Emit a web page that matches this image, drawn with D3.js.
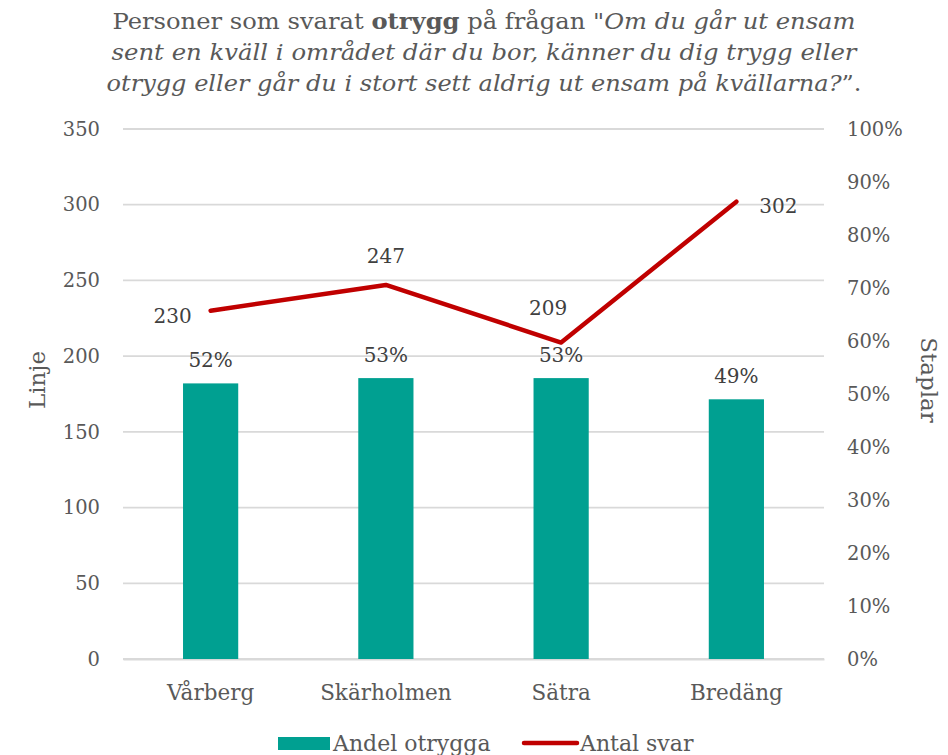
<!DOCTYPE html>
<html><head><meta charset="utf-8">
<script src="https://cdn.jsdelivr.net/npm/d3@7"></script>
<style>
html,body{margin:0;padding:0;background:#fff;}
svg text{font-family:"DejaVu Serif","Liberation Serif",serif;}
</style></head>
<body>
<svg id="chart" width="948" height="755"></svg>
<script>
const categories = ["Vårberg","Skärholmen","Sätra","Bredäng"];
const andelOtrygga = [0.52,0.53,0.53,0.49];
const antalSvar = [230,247,209,302];
const leftTicks = [0,50,100,150,200,250,300,350];
const rightTicks = [0,0.1,0.2,0.3,0.4,0.5,0.6,0.7,0.8,0.9,1.0];
const lineLabelPlacement = ["left","above","aboveLeft","right"];

const svg = d3.select("#chart");
const W = 948, H = 755;
const m = {left:123, right:124, top:129, bottom:96};
const plotW = W - m.left - m.right;
const plotH = H - m.top - m.bottom;
const gray = "#595959", dark = "#404040";
const teal = "#00A091", red = "#C00000";

const x = d3.scaleBand().domain(categories).range([m.left, m.left+plotW]).paddingInner(0.685).paddingOuter(0.3425);
const yL = d3.scaleLinear().domain([0,350]).range([m.top+plotH, m.top]);
const yR = d3.scaleLinear().domain([0,1]).range([m.top+plotH, m.top]);
const cx = d => x(d) + x.bandwidth()/2;

// gridlines
svg.append("g").selectAll("line").data(leftTicks).join("line")
  .attr("x1", m.left).attr("x2", m.left+plotW)
  .attr("y1", d=>yL(d)).attr("y2", d=>yL(d))
  .attr("stroke","#D9D9D9").attr("stroke-width",1.8);

// left axis
const axL = svg.append("g").attr("transform",`translate(${m.left},0)`)
  .call(d3.axisLeft(yL).tickValues(leftTicks).tickSize(0).tickPadding(23));
axL.select(".domain").remove();
axL.selectAll("text").attr("fill",gray).style("font-size","19.5px").style("font-family","DejaVu Serif");

// right axis
const axR = svg.append("g").attr("transform",`translate(${m.left+plotW},0)`)
  .call(d3.axisRight(yR).tickValues(rightTicks).tickSize(0).tickPadding(23).tickFormat(d3.format(".0%")));
axR.select(".domain").remove();
axR.selectAll("text").attr("fill",gray).style("font-size","19.5px").style("font-family","DejaVu Serif");

// x axis
const axX = svg.append("g").attr("transform",`translate(0,${m.top+plotH})`)
  .call(d3.axisBottom(x).tickSize(0).tickPadding(26));
axX.select(".domain").attr("stroke","#D9D9D9").attr("stroke-width",1.8);
axX.selectAll("text").attr("fill",gray).style("font-size","21.5px").style("font-family","DejaVu Serif");

// bars
svg.append("g").selectAll("rect").data(categories).join("rect")
  .attr("x", d=>x(d)).attr("width", x.bandwidth())
  .attr("y", (d,i)=>yR(andelOtrygga[i]))
  .attr("height", (d,i)=>yR(0)-yR(andelOtrygga[i]))
  .attr("fill", teal);

// bar labels
svg.append("g").selectAll("text").data(categories).join("text")
  .attr("x", d=>cx(d)).attr("y", (d,i)=>yR(andelOtrygga[i]) - 16)
  .attr("text-anchor","middle").attr("fill",dark).style("font-size","20px")
  .text((d,i)=>d3.format(".0%")(andelOtrygga[i]));

// line
const line = d3.line().x((d,i)=>cx(categories[i])).y(d=>yL(d));
svg.append("path").datum(antalSvar).attr("d", line)
  .attr("fill","none").attr("stroke",red).attr("stroke-width",4.5)
  .attr("stroke-linecap","round").attr("stroke-linejoin","round");

// line labels
const off = {left:[-38,12], above:[0,-22], aboveLeft:[-13,-28], right:[42,11]};
svg.append("g").selectAll("text").data(antalSvar).join("text")
  .attr("x",(d,i)=>cx(categories[i]) + off[lineLabelPlacement[i]][0])
  .attr("y",(d,i)=>yL(d) + off[lineLabelPlacement[i]][1])
  .attr("text-anchor","middle").attr("fill",dark).style("font-size","20px")
  .text(d=>d);

// axis titles
svg.append("text").attr("transform","translate(45,380) rotate(-90)")
  .attr("text-anchor","middle").attr("fill",gray).style("font-size","23px").text("Linje");
svg.append("text").attr("transform","translate(921,380) rotate(90)")
  .attr("text-anchor","middle").attr("fill",gray).style("font-size","23px").text("Staplar");

// title
const titleLines = [
  [["Personer som svarat ","normal","normal"],["otrygg","bold","normal"],[" på frågan \"","normal","normal"],["Om du går ut ensam","normal","italic"]],
  [["sent en kväll i området där du bor, känner du dig trygg eller","normal","italic"]],
  [["otrygg eller går du i stort sett aldrig ut ensam på kvällarna?","normal","italic"],["”.","normal","normal"]]
];
const titleTargets = [743, 745, 755];
const titleY = [29, 60, 91];
titleLines.forEach((ln,li)=>{
  const t = svg.append("text").attr("x",484).attr("y",titleY[li]).attr("text-anchor","middle")
    .attr("fill",gray).style("font-size","21.5px");
  ln.forEach(s=>t.append("tspan").text(s[0]).style("font-weight",s[1]).style("font-style",s[2]));
  t.attr("textLength", titleTargets[li]).attr("lengthAdjust","spacingAndGlyphs");
});

// legend
const lg = svg.append("g");
lg.append("rect").attr("x",278).attr("y",737).attr("width",52).attr("height",13).attr("fill",teal);
lg.append("text").attr("x",333).attr("y",751).attr("fill",gray).style("font-size","22px").text("Andel otrygga");
lg.append("line").attr("x1",524).attr("x2",577).attr("y1",743).attr("y2",743)
  .attr("stroke",red).attr("stroke-width",4.5).attr("stroke-linecap","round");
lg.append("text").attr("x",580).attr("y",751).attr("fill",gray).style("font-size","22px").text("Antal svar");
</script>
</body></html>
